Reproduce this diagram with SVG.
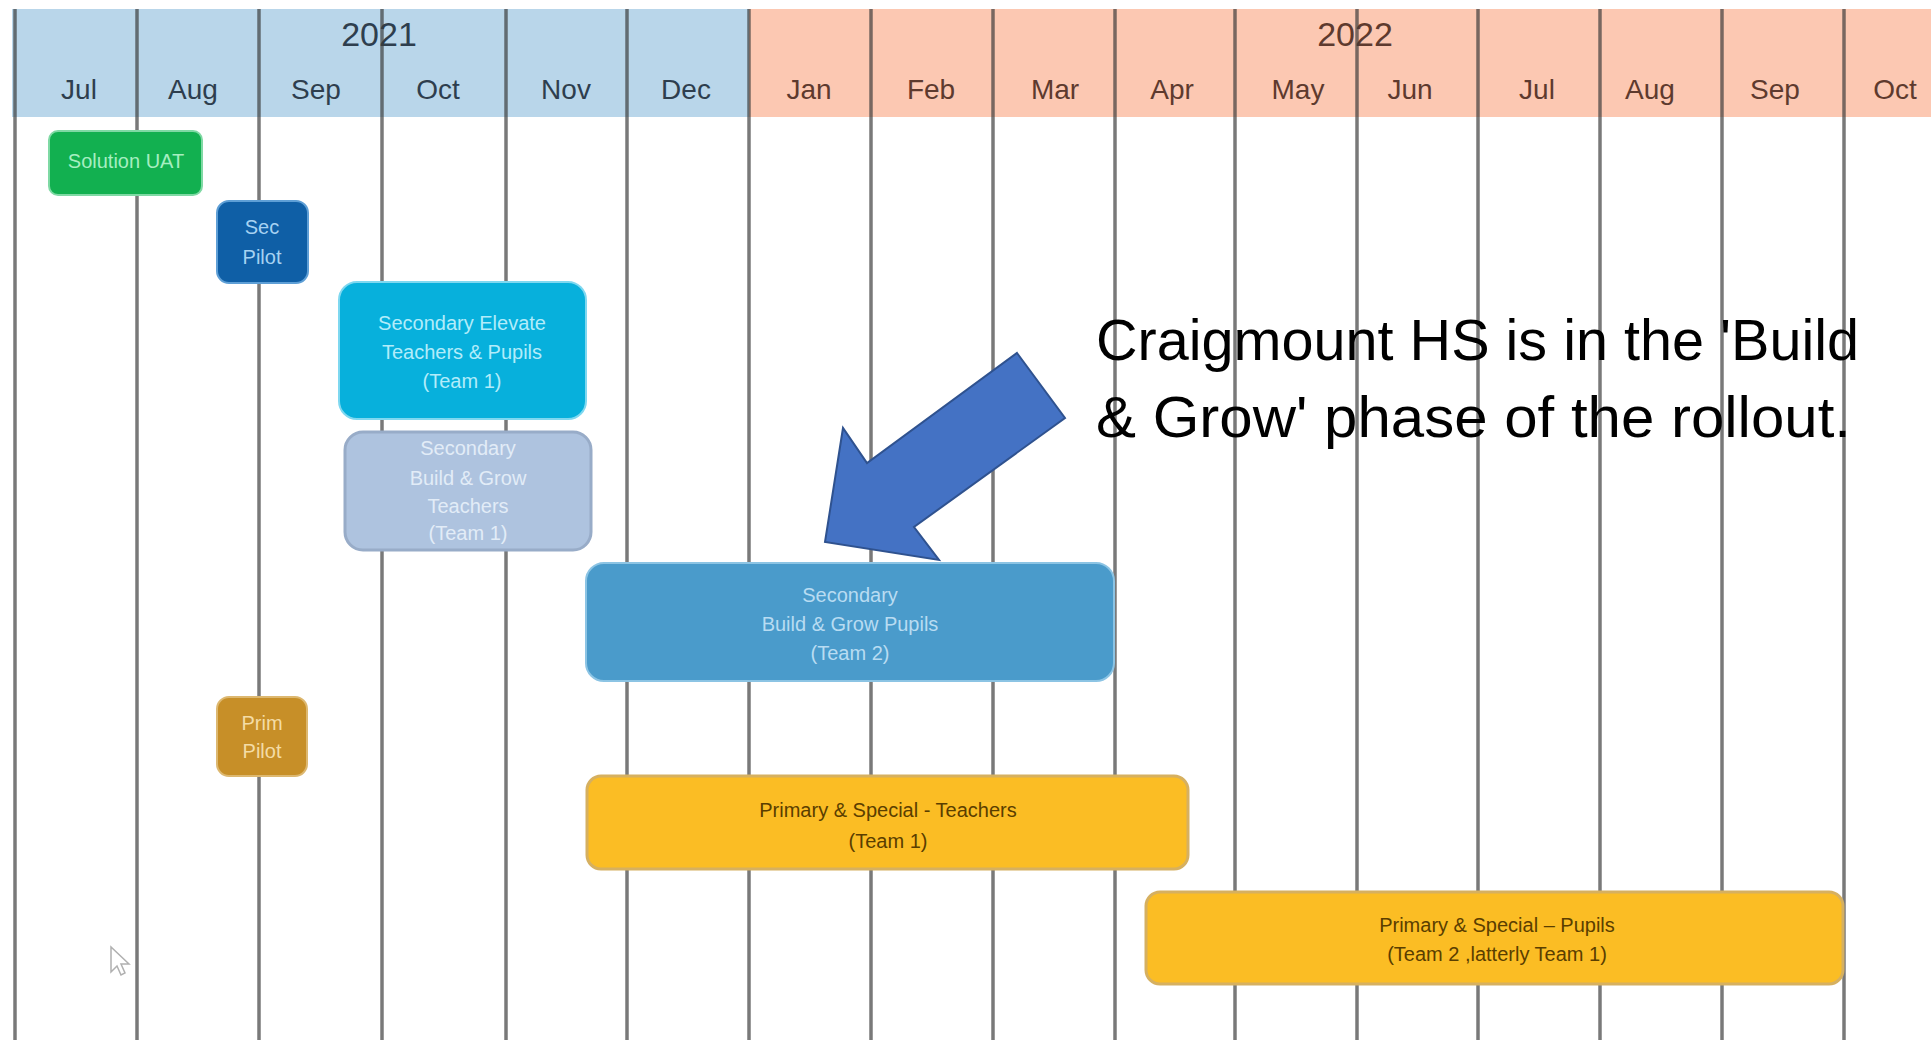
<svg xmlns="http://www.w3.org/2000/svg" width="1931" height="1040" viewBox="0 0 1931 1040">
<style>
.mon{font-family:"Liberation Sans",Arial,sans-serif;font-size:28px;text-anchor:middle}
.b21{fill:#2e3e4e}
.b22{fill:#5e3a2e}
.yr{font-family:"Liberation Sans",Arial,sans-serif;font-size:34px;text-anchor:middle}
.grid{stroke:#3a3a3a;stroke-opacity:0.68;stroke-width:3.5}
.lbl{font-family:"Liberation Sans",Arial,sans-serif;font-size:20px;text-anchor:middle}
.note{font-family:"Liberation Sans",Arial,sans-serif;font-size:57.5px;fill:#000}
</style>
<rect width="1931" height="1040" fill="#ffffff"/>
<g id="header">
<rect x="12" y="9" width="737" height="108" fill="#b9d6ea"/>
<rect x="749" y="9" width="1182" height="108" fill="#fcc8b2"/>
<text class="yr b21" x="379" y="46">2021</text>
<text class="yr b22" x="1355" y="46">2022</text>
<text class="mon b21" x="79" y="99">Jul</text>
<text class="mon b21" x="193" y="99">Aug</text>
<text class="mon b21" x="316" y="99">Sep</text>
<text class="mon b21" x="438" y="99">Oct</text>
<text class="mon b21" x="566" y="99">Nov</text>
<text class="mon b21" x="686" y="99">Dec</text>
<text class="mon b22" x="809" y="99">Jan</text>
<text class="mon b22" x="931" y="99">Feb</text>
<text class="mon b22" x="1055" y="99">Mar</text>
<text class="mon b22" x="1172" y="99">Apr</text>
<text class="mon b22" x="1298" y="99">May</text>
<text class="mon b22" x="1410" y="99">Jun</text>
<text class="mon b22" x="1537" y="99">Jul</text>
<text class="mon b22" x="1650" y="99">Aug</text>
<text class="mon b22" x="1775" y="99">Sep</text>
<text class="mon b22" x="1895" y="99">Oct</text>
</g>
<g id="gridlines">
<line class="grid" x1="15" y1="9" x2="15" y2="1040"/>
<line class="grid" x1="137" y1="9" x2="137" y2="1040"/>
<line class="grid" x1="259" y1="9" x2="259" y2="1040"/>
<line class="grid" x1="382" y1="9" x2="382" y2="1040"/>
<line class="grid" x1="506" y1="9" x2="506" y2="1040"/>
<line class="grid" x1="627" y1="9" x2="627" y2="1040"/>
<line class="grid" x1="749" y1="9" x2="749" y2="1040"/>
<line class="grid" x1="871" y1="9" x2="871" y2="1040"/>
<line class="grid" x1="993" y1="9" x2="993" y2="1040"/>
<line class="grid" x1="1115" y1="9" x2="1115" y2="1040"/>
<line class="grid" x1="1235" y1="9" x2="1235" y2="1040"/>
<line class="grid" x1="1357" y1="9" x2="1357" y2="1040"/>
<line class="grid" x1="1478" y1="9" x2="1478" y2="1040"/>
<line class="grid" x1="1600" y1="9" x2="1600" y2="1040"/>
<line class="grid" x1="1722" y1="9" x2="1722" y2="1040"/>
<line class="grid" x1="1844" y1="9" x2="1844" y2="1040"/>
</g>
<g id="solution-uat">
<rect x="49" y="131" width="153" height="64" rx="9" fill="#12b050" stroke="#7fd9a4" stroke-width="2"/>
<text class="lbl" x="126" y="168" fill="#a6eec0">Solution UAT</text>
</g>
<g id="sec-pilot">
<rect x="217" y="201" width="91" height="82" rx="12" fill="#0f5fa6" stroke="#5e9fd6" stroke-width="2"/>
<text class="lbl" x="262" y="234" fill="#a6d2f2">Sec</text>
<text class="lbl" x="262" y="264" fill="#a6d2f2">Pilot</text>
</g>
<g id="sec-elevate">
<rect x="339" y="282" width="247" height="137" rx="18" fill="#07b0dc" stroke="#7fd8f0" stroke-width="2"/>
<text class="lbl" x="462" y="330" fill="#b2ecfa">Secondary Elevate</text>
<text class="lbl" x="462" y="359" fill="#b2ecfa">Teachers &amp; Pupils</text>
<text class="lbl" x="462" y="388" fill="#b2ecfa">(Team 1)</text>
</g>
<g id="sec-bg-teachers">
<rect x="345" y="432" width="246" height="118" rx="18" fill="#aec3df" stroke="#98acc8" stroke-width="3"/>
<text class="lbl" x="468" y="455" fill="#e2ecf7">Secondary</text>
<text class="lbl" x="468" y="485" fill="#e2ecf7">Build &amp; Grow</text>
<text class="lbl" x="468" y="513" fill="#e2ecf7">Teachers</text>
<text class="lbl" x="468" y="540" fill="#e2ecf7">(Team 1)</text>
</g>
<g id="sec-bg-pupils">
<rect x="586" y="563" width="528" height="118" rx="18" fill="#4a9bcb" stroke="#8cc4e4" stroke-width="2"/>
<text class="lbl" x="850" y="602" fill="#b8dcf2">Secondary</text>
<text class="lbl" x="850" y="631" fill="#b8dcf2">Build &amp; Grow  Pupils</text>
<text class="lbl" x="850" y="660" fill="#b8dcf2">(Team 2)</text>
</g>
<g id="prim-pilot">
<rect x="217" y="697" width="90" height="79" rx="12" fill="#c78f28" stroke="#ddb870" stroke-width="2"/>
<text class="lbl" x="262" y="730" fill="#f4dca6">Prim</text>
<text class="lbl" x="262" y="758" fill="#f4dca6">Pilot</text>
</g>
<g id="prim-teachers">
<rect x="587" y="776" width="601" height="93" rx="14" fill="#fbbd24" stroke="#d6b060" stroke-width="3"/>
<text class="lbl" x="888" y="817" fill="#5a3e00">Primary &amp; Special - Teachers</text>
<text class="lbl" x="888" y="848" fill="#5a3e00">(Team 1)</text>
</g>
<g id="prim-pupils">
<rect x="1146" y="892" width="697" height="92" rx="14" fill="#fbbd24" stroke="#d6b060" stroke-width="3"/>
<text class="lbl" x="1497" y="932" fill="#5a3e00">Primary &amp; Special – Pupils</text>
<text class="lbl" x="1497" y="961" fill="#5a3e00">(Team 2 ,latterly Team 1)</text>
</g>
<g id="connectors">
<polygon points="1017,353 1065,418 914,527 939,560 825,542 843,428 867,463" fill="#4472c4" stroke="#2f528f" stroke-width="2" stroke-linejoin="miter"/>
</g>
<g id="note">
<text class="note" x="1096" y="360" textLength="763" lengthAdjust="spacingAndGlyphs">Craigmount HS is in the 'Build</text>
<text class="note" x="1096" y="437" textLength="755" lengthAdjust="spacingAndGlyphs">&amp; Grow' phase of the rollout.</text>
</g>
<g id="cursor">
<path d="M111,947 L111,972 L117,966 L121,975 L125,973 L121,964 L129,964 Z" fill="#ffffff" fill-opacity="0.6" stroke="#b0b0b0" stroke-width="1.5"/>
</g>
</svg>
